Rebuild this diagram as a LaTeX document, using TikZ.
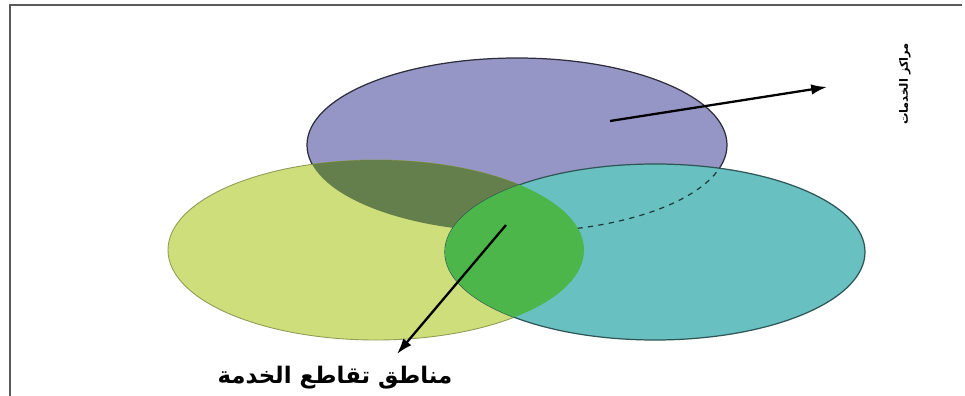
\documentclass[tikz,border=0pt]{standalone}
\usepackage{fontspec}
\newfontfamily\arabicfont[Script=Arabic]{DejaVu Sans}
\TeXXeTstate=1
\usetikzlibrary{arrows.meta}

\definecolor{viola}{RGB}{150,150,198}
\definecolor{giallo}{RGB}{206,222,122}
\definecolor{turchese}{RGB}{104,192,192}
\definecolor{oliva}{RGB}{100,126,76}
\definecolor{verde}{RGB}{76,182,74}

% le tre aree di servizio
\newcommand{\ellViola}{(517,145) ellipse [x radius=4.2cm, y radius=1.74cm]}
\newcommand{\ellGiallo}{(376,250) ellipse [x radius=4.16cm, y radius=1.8cm]}
\newcommand{\ellTurchese}{(655,252) ellipse [x radius=4.2cm, y radius=1.76cm]}

\begin{document}
\begin{tikzpicture}[x=0.2mm,y=-0.2mm,
    freccia/.style={-{Latex[length=9pt,width=6pt]}, line width=1.3pt},
    etichetta/.style={font=\arabicfont\bfseries\fontsize{#1}{#1}\selectfont}]
    \useasboundingbox (0,0) rectangle (965,396);
    \draw[black!65, line width=1.2pt] (10,396) -- (10,5) -- (962,5);

    % cerchio viola in alto
    \filldraw[fill=viola, draw=viola!30!black, line width=0.7pt] \ellViola;
    % cerchio giallo e zona comune con il viola
    \filldraw[fill=giallo, draw=giallo!70!black, line width=0.5pt] \ellGiallo;
    \begin{scope}
        \clip \ellGiallo;
        \fill[oliva] \ellViola;
    \end{scope}
    % cerchio turchese, bordo nascosto del viola tratteggiato
    \filldraw[fill=turchese, draw=turchese!45!black, line width=0.7pt] \ellTurchese;
    \begin{scope}
        \clip \ellTurchese;
        \draw[turchese!30!black, dashed, line width=0.7pt] \ellViola;
        \clip \ellGiallo;
        \fill[verde] \ellTurchese;
    \end{scope}

    % frecce ed etichette
    \coordinate (centri) at (610,121);
    \coordinate (fineCentri) at (827,87);
    \coordinate (incrocio) at (506,225);
    \coordinate (fineIncrocio) at (397,354);
    \draw[freccia] (centri) -- (fineCentri);
    \draw[freccia] (incrocio) -- (fineIncrocio);

    \node[etichetta=6.5, rotate=90] (txtCentri) at (905,84) {\beginR مراكز الخدمات\endR};
    \node[etichetta=13] (txtIncrocio) at (335,378) {\beginR مناطق تقاطع الخدمة\endR};
\end{tikzpicture}
\end{document}
